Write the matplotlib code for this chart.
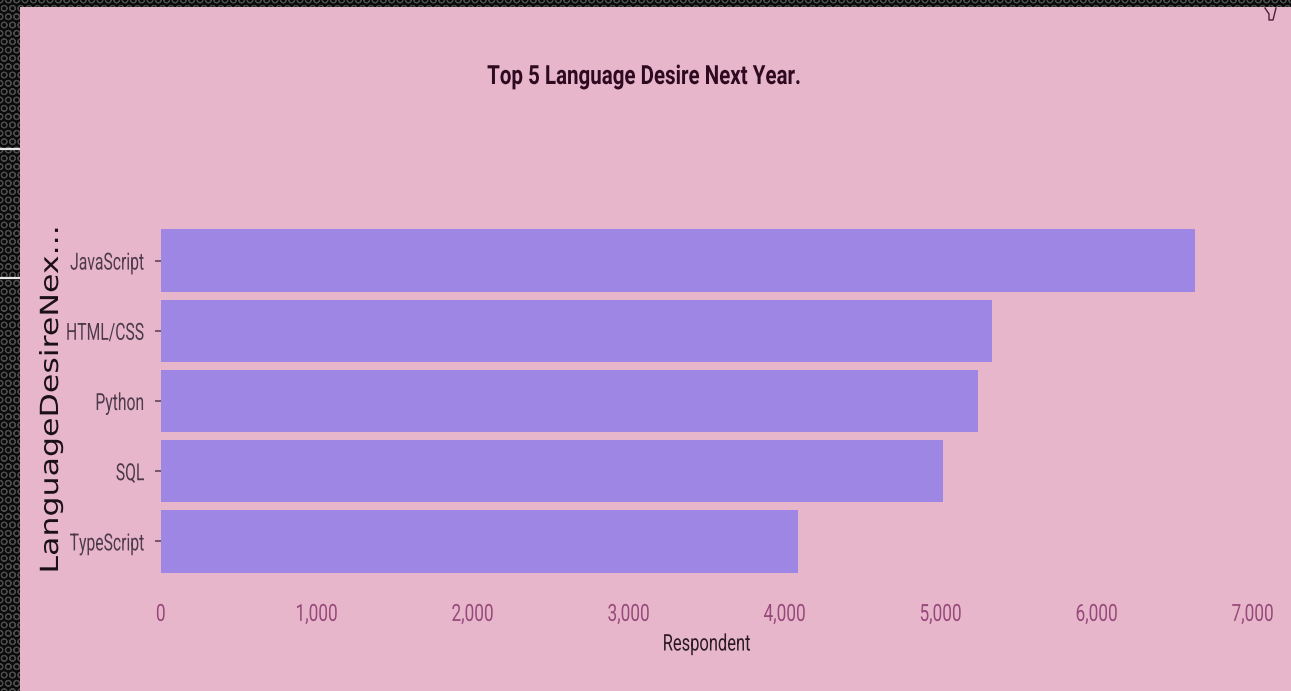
import matplotlib
matplotlib.use('Agg')
import matplotlib.pyplot as plt
from matplotlib.patches import Rectangle
from matplotlib.patheffects import AbstractPathEffect
from matplotlib.ticker import FuncFormatter
from matplotlib.transforms import Affine2D

languages = ['JavaScript', 'HTML/CSS', 'Python', 'SQL', 'TypeScript']
respondents = [6628, 5327, 5237, 5010, 4083]
x_ticks = [0, 1000, 2000, 3000, 4000, 5000, 6000, 7000]

W, H = 1291, 691
PINK = '#e8b6cb'
BAR = '#9e86e4'
FONT = 'Roboto'


# la fuente original es condensada: estirar el texto en horizontal sin perder el Text
class Stretch(AbstractPathEffect):
    def __init__(self, sx, anchor=0.5):
        super().__init__()
        self.sx = sx
        self.anchor = anchor

    def draw_path(self, renderer, gc, tpath, affine, rgbFace=None):
        c = tpath.get_extents().x1 * self.anchor
        local = Affine2D().translate(-c, 0).scale(self.sx, 1).translate(c, 0)
        renderer.draw_path(gc, tpath, local + affine, rgbFace)


fig = plt.figure(figsize=(W / 100, H / 100), dpi=100, facecolor='#1c1c1c')

# fondo con textura oscura y panel rosa
plt.rcParams['hatch.linewidth'] = 0.8
fig.add_artist(Rectangle((0, 0), 1, 1, transform=fig.transFigure, facecolor='#0a0a0a',
                         edgecolor='#4a4a4a', hatch='OO', lw=0, zorder=-3))
for y_px in (149, 278):
    fig.add_artist(plt.Line2D([0, 20 / W], [1 - y_px / H, 1 - y_px / H], color='#e8e8e8', lw=1.6, zorder=-2))
fig.add_artist(Rectangle((20 / W, 0), 1 - 20 / W, 1 - 7 / H, transform=fig.transFigure,
                         facecolor=PINK, edgecolor='none', zorder=-1))

ax = fig.add_axes([161 / W, 1 - 576.5 / H, (1253 - 161) / W, 351 / H])
ax.patch.set_alpha(0)
ax.barh(languages, respondents, height=0.89, color=BAR)
ax.set_ylim(4.5, -0.5)
ax.set_xlim(0, 7000)
ax.set_xticks(x_ticks)
ax.xaxis.set_major_formatter(FuncFormatter(lambda v, p: f'{int(v):,}'))

for s in ax.spines.values():
    s.set_visible(False)

ax.tick_params(axis='x', length=0, pad=19, labelsize=17, labelcolor='#96497a')
ax.tick_params(axis='y', length=4.3, width=1.1, color='#5c3a50', pad=7.5, labelsize=17, labelcolor='#4c3a4a')
for lab in ax.get_xticklabels():
    lab.set_family(FONT)
    lab.set_path_effects([Stretch(0.73, 0.5)])
for lab in ax.get_yticklabels():
    lab.set_family(FONT)
    lab.set_path_effects([Stretch(0.665, 1.0)])

fig.text(706.5 / W, 1 - 644 / H, 'Respondent', family=FONT, fontsize=16.5, color='#2a1a24',
         ha='center', va='center', path_effects=[Stretch(0.72)])
fig.text(51 / W, 1 - 399.5 / H, 'LanguageDesireNex...', family='DejaVu Sans', fontsize=18,
         color='#1a1016', rotation=90, ha='center', va='center', path_effects=[Stretch(1.265)])
fig.text(644.5 / W, 1 - 77 / H, 'Top 5 Language Desire Next Year.', family=FONT, fontsize=19,
         fontweight='bold', color='#2e0a20', ha='center', va='center', path_effects=[Stretch(0.777)])

# marca pequena arriba a la derecha
fig.add_artist(plt.Line2D([1265 / W, 1269 / W, 1269 / W, 1273 / W, 1276 / W],
                          [1 - 8 / H, 1 - 14 / H, 1 - 20 / H, 1 - 20 / H, 1 - 8 / H],
                          color='#4a2238', lw=1))

fig.savefig('out.png', dpi=100, facecolor=fig.get_facecolor())
